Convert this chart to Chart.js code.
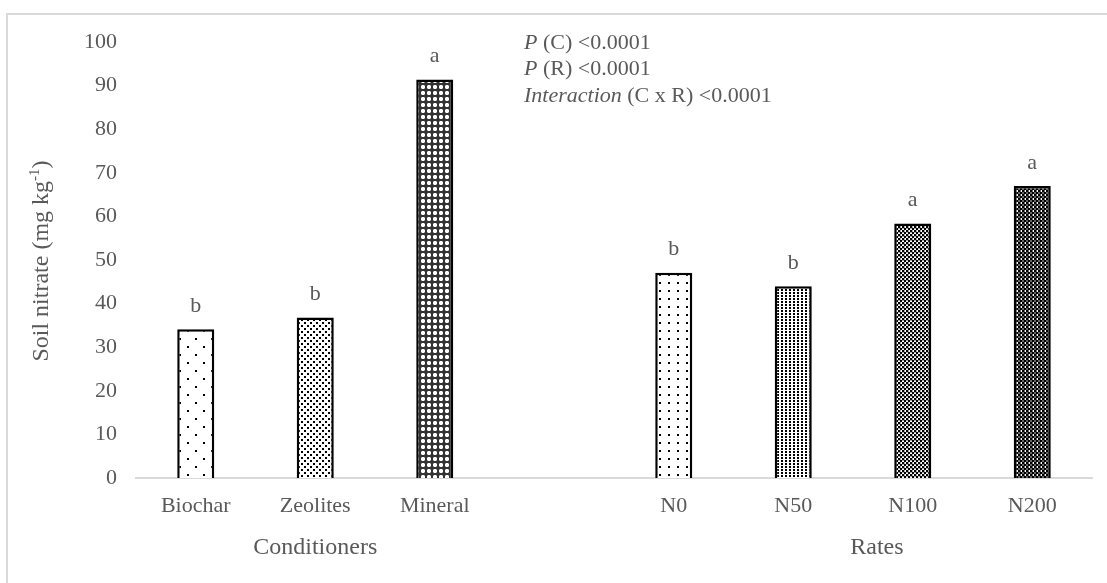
<!DOCTYPE html>
<html>
<head>
<meta charset="utf-8">
<script src="https://cdn.jsdelivr.net/npm/chart.js@4/dist/chart.umd.min.js"></script>
<style>
  html, body { margin: 0; padding: 0; background: #fff; }
  #wrap { position: relative; width: 1107px; height: 583px; }
</style>
</head>
<body>
<div id="wrap"><canvas id="nitrate"></canvas></div>
<script>
// data
const categories = ['Biochar', 'Zeolites', 'Mineral', '', 'N0', 'N50', 'N100', 'N200'];
const nitrate = [34.1, 36.8, 91.4, null, 47.1, 44.0, 58.4, 67.0];
const letters = ['b', 'b', 'a', '', 'b', 'b', 'a', 'a'];
const yTicks = [0, 10, 20, 30, 40, 50, 60, 70, 80, 90, 100];
const groups = ['Conditioners', 'Rates'];
const stats = [
    [['P', true], [' (C) <0.0001', false]],
    [['P', true], [' (R) <0.0001', false]],
    [['Interaction', true], [' (C x R) <0.0001', false]]
];

const GREY = '#595959';
const SERIF = '"Liberation Serif", "Times New Roman", serif';

// little canvas tiles for the hatch fills
function tile(w, h, draw) {
    const c = document.createElement('canvas');
    c.width = w; c.height = h;
    const g = c.getContext('2d');
    g.fillStyle = '#fff';
    g.fillRect(0, 0, w, h);
    draw(g);
    return document.createElement('canvas').getContext('2d').createPattern(c, 'repeat');
}

const patterns = [
    // biochar: sparse dots
    tile(16, 16, g => { g.fillStyle = '#000'; g.fillRect(3, 2, 2, 2); g.fillRect(11, 10, 2, 2); }),
    // zeolites: denser dots
    tile(6, 6, g => { g.fillStyle = '#000'; g.fillRect(1, 1, 2, 2); g.fillRect(4, 4, 2, 2); }),
    // mineral: white crosses on grey
    tile(6, 6, g => {
        g.fillStyle = '#333'; g.fillRect(0, 0, 6, 6);
        g.fillStyle = '#fff'; g.fillRect(1, 2, 4, 2); g.fillRect(2, 1, 2, 4);
        g.fillStyle = '#999'; g.fillRect(1, 1, 1, 1); g.fillRect(4, 1, 1, 1); g.fillRect(1, 4, 1, 1); g.fillRect(4, 4, 1, 1);
    }),
    null,
    // N0
    tile(9, 8, g => { g.fillStyle = '#000'; g.fillRect(2, 2, 2, 2); }),
    // N50
    tile(4, 3, g => { g.fillStyle = '#000'; g.fillRect(1, 1, 2, 2); }),
    // N100
    tile(4, 4, g => {
        g.fillStyle = '#000'; g.fillRect(0, 0, 2, 2); g.fillRect(2, 2, 2, 2);
        g.fillStyle = '#aaa'; g.fillRect(2, 0, 2, 1); g.fillRect(0, 2, 1, 2);
    }),
    // N200
    tile(4, 4, g => {
        g.fillStyle = '#000'; g.fillRect(0, 0, 2, 2); g.fillRect(2, 2, 2, 2);
        g.fillStyle = '#666'; g.fillRect(2, 0, 2, 2); g.fillRect(0, 2, 1, 2);
    })
];

function drawMixed(ctx, parts, x, y, size) {
    let cx = x;
    parts.forEach(([txt, it]) => {
        ctx.font = (it ? 'italic ' : '') + size + 'px ' + SERIF;
        ctx.fillText(txt, cx, y);
        cx += ctx.measureText(txt).width;
    });
}

const extras = {
    id: 'extras',
    afterDraw(chart) {
        const { ctx, scales: { x, y } } = chart;
        ctx.save();
        ctx.fillStyle = GREY;

        // significance letters
        ctx.font = '22px ' + SERIF;
        ctx.textAlign = 'center';
        ctx.textBaseline = 'middle';
        letters.forEach((l, i) => {
            if (!l) return;
            ctx.fillText(l, x.getPixelForValue(i), y.getPixelForValue(nitrate[i]) - 23);
        });

        // group titles under the ticks
        ctx.font = '24px ' + SERIF;
        ctx.fillText(groups[0], x.getPixelForValue(1), 548);
        ctx.fillText(groups[1], x.getPixelForValue(5.7), 548);

        // y title with superscript
        ctx.translate(42, 261);
        ctx.rotate(-Math.PI / 2);
        const a = 'Soil nitrate (mg kg', sup = '-1', b = ')';
        ctx.font = '24px ' + SERIF;
        const wa = ctx.measureText(a).width, wb = ctx.measureText(b).width;
        ctx.font = '15px ' + SERIF;
        const ws = ctx.measureText(sup).width;
        let sx = -(wa + ws + wb) / 2;
        ctx.textAlign = 'left';
        ctx.font = '24px ' + SERIF;
        ctx.fillText(a, sx, 0);
        ctx.font = '15px ' + SERIF;
        ctx.fillText(sup, sx + wa, -7);
        ctx.font = '24px ' + SERIF;
        ctx.fillText(b, sx + wa + ws, 0);
        ctx.setTransform(1, 0, 0, 1, 0, 0);

        // statistics block
        ctx.textAlign = 'left';
        stats.forEach((line, i) => drawMixed(ctx, line, 524, 43 + i * 26.5, 22));

        // outer frame (left and top edges show)
        ctx.strokeStyle = '#d9d9d9';
        ctx.lineWidth = 2;
        ctx.beginPath();
        ctx.moveTo(7, 583);
        ctx.lineTo(7, 14);
        ctx.lineTo(1107, 14);
        ctx.stroke();
        ctx.restore();
    }
};

new Chart(document.getElementById('nitrate'), {
    type: 'bar',
    data: {
        labels: categories,
        datasets: [{
            data: nitrate,
            backgroundColor: patterns,
            borderColor: '#000',
            borderWidth: 2.5,
            borderSkipped: 'bottom',
            categoryPercentage: 1,
            barPercentage: 0.31
        }]
    },
    options: {
        responsive: true,
        maintainAspectRatio: false,
        animation: false,
        layout: { padding: { left: 0, right: 15, top: 42, bottom: 0 } },
        plugins: {
            legend: { display: false },
            tooltip: { enabled: false }
        },
        scales: {
            x: {
                grid: { display: false, drawTicks: false },
                border: { display: true, color: '#d9d9d9', width: 2 },
                ticks: { color: GREY, font: { family: SERIF, size: 22 }, padding: 15, maxRotation: 0 },
                afterFit(s) { s.height = 105; }
            },
            y: {
                min: 0,
                max: 100,
                grid: { display: false, drawTicks: false },
                border: { display: false },
                afterBuildTicks(s) { s.ticks = yTicks.map(v => ({ value: v })); },
                ticks: { color: GREY, font: { family: SERIF, size: 22 }, padding: 19 },
                afterFit(s) { s.width = 136; }
            }
        }
    },
    plugins: [extras]
});
</script>
</body>
</html>
